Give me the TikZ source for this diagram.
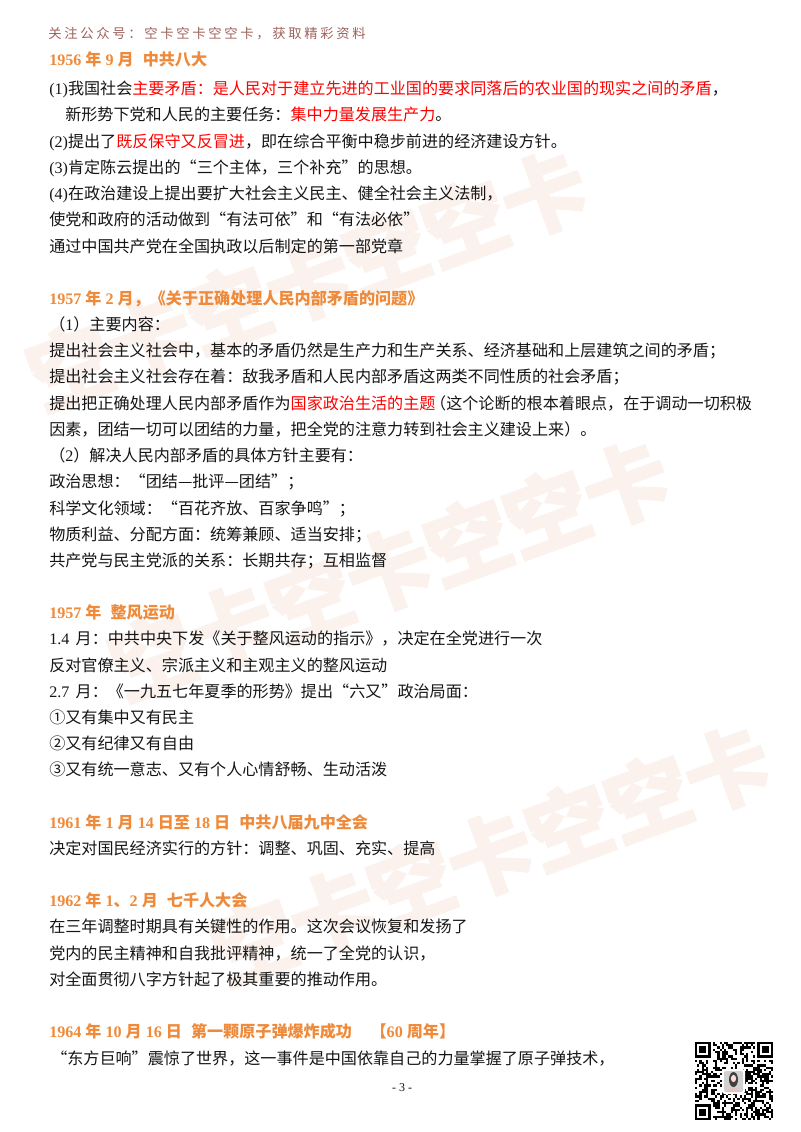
\documentclass[tikz,border=0pt]{standalone}
\usepackage{fontspec}
\setmainfont{Noto Sans CJK SC}
\newfontfamily\tmfont{Liberation Serif}
\newfontfamily\hdfont[LetterSpace=20]{Noto Sans CJK SC}
\newfontfamily\wmfont[FakeBold=4]{Noto Sans CJK SC Bold}
\newcommand{\tm}[1]{{\tmfont #1}}
\newcommand{\rd}[1]{\textcolor{keyred}{#1}}
\definecolor{keyred}{HTML}{FF0000}
\definecolor{headorange}{HTML}{EE8A3A}
\definecolor{bodyink}{HTML}{151515}
\definecolor{topink}{HTML}{A0625C}
\definecolor{markpink}{HTML}{FBF1ED}
\tikzset{
  body/.style={anchor=base west,inner sep=0pt,text=bodyink,font=\fontsize{12.07pt}{14pt}\selectfont},
  head/.style={anchor=base west,inner sep=0pt,text=headorange,font=\fontsize{12.07pt}{14pt}\selectfont\bfseries},
  top/.style={anchor=base west,inner sep=0pt,text=topink,font=\fontsize{10pt}{12pt}\hdfont},
  wmark/.style={anchor=center,inner sep=0pt,text=markpink,rotate=20,font=\fontsize{63pt}{70pt}\wmfont},
  pageno/.style={anchor=center,inner sep=0pt,text=bodyink,font=\fontsize{9pt}{10pt}\tmfont},
}
\begin{document}
\begin{tikzpicture}[x=0.75pt,y=-0.75pt]
\useasboundingbox (0,0) rectangle (800,1132);
\fill[white] (0,0) rectangle (800,1132);
% watermark
\node[wmark] (wa) at (307,280) {空卡空卡空空卡};
\node[wmark] (wb) at (389,570) {空卡空卡空空卡};
\node[wmark] (wc) at (490,855) {空卡空卡空空卡};
% text
\node[top] (t0) at (48,38) {关注公众号：空卡空卡空空卡，获取精彩资料};
\node[head] (h1) at (49,65) {\tm{1956 }年\tm{ 9 }月\hspace{4pt}\ 中共八大};
\node[body] (a1) at (49,94) {\tm{(1)}我国社会\rd{主要矛盾：是人民对于建立先进的工业国的要求同落后的农业国的现实之间的矛盾}，};
\node[body] (a2) at (65,120) {新形势下党和人民的主要任务：\rd{集中力量发展生产力}。};
\node[body] (a3) at (49,147) {\tm{(2)}提出了\rd{既反保守又反冒进}，即在综合平衡中稳步前进的经济建设方针。};
\node[body] (a4) at (49,173) {\tm{(3)}肯定陈云提出的“三个主体，三个补充”的思想。};
\node[body] (a5) at (49,199) {\tm{(4)}在政治建设上提出要扩大社会主义民主、健全社会主义法制，};
\node[body] (a6) at (49,225) {使党和政府的活动做到“有法可依”和“有法必依”};
\node[body] (a7) at (49,252) {通过中国共产党在全国执政以后制定的第一部党章};
\node[head] (h2) at (49,304) {\tm{1957 }年\tm{ 2 }月，《关于正确处理人民内部矛盾的问题》};
\node[body] (b1) at (49,330) {（\tm{1}）主要内容：};
\node[body] (b2) at (49,356) {提出社会主义社会中，基本的矛盾仍然是生产力和生产关系、经济基础和上层建筑之间的矛盾；};
\node[body] (b3) at (49,382) {提出社会主义社会存在着：敌我矛盾和人民内部矛盾这两类不同性质的社会矛盾；};
\node[body] (b4) at (49,409) {提出把正确处理人民内部矛盾作为\rd{国家政治生活的主题}\hspace{-4pt}（这个论断的根本着眼点，在于调动一切积极};
\node[body] (b5) at (49,435) {因素，团结一切可以团结的力量，把全党的注意力转到社会主义建设上来）。};
\node[body] (b6) at (49,461) {（\tm{2}）解决人民内部矛盾的具体方针主要有：};
\node[body] (b7) at (49,487) {政治思想：“团结—批评—团结”；};
\node[body] (b8) at (49,514) {科学文化领域：“百花齐放、百家争鸣”；};
\node[body] (b9) at (49,540) {物质利益、分配方面：统筹兼顾、适当安排；};
\node[body] (b10) at (49,566) {共产党与民主党派的关系：长期共存；互相监督};
\node[head] (h3) at (49,618) {\tm{1957 }年\hspace{4pt}\ 整风运动};
\node[body] (c1) at (49,644) {\tm{1.4} \,月：中共中央下发《关于整风运动的指示》，决定在全党进行一次};
\node[body] (c2) at (49,671) {反对官僚主义、宗派主义和主观主义的整风运动};
\node[body] (c3) at (49,697) {\tm{2.7} \,月：《一九五七年夏季的形势》提出“六又”政治局面：};
\node[body] (c4) at (49,723) {①又有集中又有民主};
\node[body] (c5) at (49,749) {②又有纪律又有自由};
\node[body] (c6) at (49,775) {③又有统一意志、又有个人心情舒畅、生动活泼};
\node[head] (h4) at (49,828) {\tm{1961 }年\tm{ 1 }月\tm{ 14 }日至\tm{ 18 }日\hspace{4pt}\ 中共八届九中全会};
\node[body] (d1) at (49,854) {决定对国民经济实行的方针：调整、巩固、充实、提高};
\node[head] (h5) at (49,906) {\tm{1962 }年\tm{ 1}、\tm{2 }月\hspace{4pt}\ 七千人大会};
\node[body] (e1) at (49,932) {在三年调整时期具有关键性的作用。这次会议恢复和发扬了};
\node[body] (e2) at (49,959) {党内的民主精神和自我批评精神，统一了全党的认识，};
\node[body] (e3) at (49,985) {对全面贯彻八字方针起了极其重要的推动作用。};
\node[head] (h6) at (49,1037) {\tm{1964 }年\tm{ 10 }月\tm{ 16 }日\hspace{4pt}\ 第一颗原子弹爆炸成功\hspace{14pt}【\tm{60 }周年】};
\node[body] (f1) at (51,1064) {“东方巨响”震惊了世界，这一事件是中国依靠自己的力量掌握了原子弹技术，};
\node[pageno] (pn) at (402,1088) {- 3 -};
% QR code
\pgfmathsetseed{4711}
\pgfmathsetmacro{\qm}{78/35}
\foreach \i in {0,...,34}{\foreach \j in {0,...,34}{
  \pgfmathparse{rnd<0.5 ? 1 : 0}
  \ifnum\pgfmathresult=1
    \fill[black] ({695+\i*\qm},{1042+\j*\qm}) rectangle ({695+(\i+1)*\qm},{1042+(\j+1)*\qm});
  \fi
}}
\foreach \fx/\fy in {695/1042,757.4/1042,695/1104.4}{
  \fill[white] (\fx-\qm,\fy-\qm) rectangle (\fx+8*\qm,\fy+8*\qm);
  \fill[black] (\fx,\fy) rectangle (\fx+7*\qm,\fy+7*\qm);
  \fill[white] (\fx+\qm,\fy+\qm) rectangle (\fx+6*\qm,\fy+6*\qm);
  \fill[black] (\fx+2*\qm,\fy+2*\qm) rectangle (\fx+5*\qm,\fy+5*\qm);
}
% clean the margins added by the finder clearing
\fill[white] (690,1036) rectangle (695,1125);
\fill[white] (773,1036) rectangle (780,1125);
\fill[white] (690,1037) rectangle (780,1042);
\fill[white] (690,1120) rectangle (780,1126);
% portrait
\fill[white,rounded corners=2pt] (722,1069) rectangle (745,1094);
\fill[black!18,rounded corners=1.5pt] (724,1071) rectangle (743,1092);
\fill[black!75] (733.5,1079.5) ellipse (4.5 and 7.5);
\fill[pink!55!white] (733.5,1078.5) ellipse (2.6 and 3.6);
\fill[pink!65!gray!70!white] (727,1092) .. controls (728,1086) and (739,1086) .. (740,1092) -- cycle;
\end{tikzpicture}
\end{document}
